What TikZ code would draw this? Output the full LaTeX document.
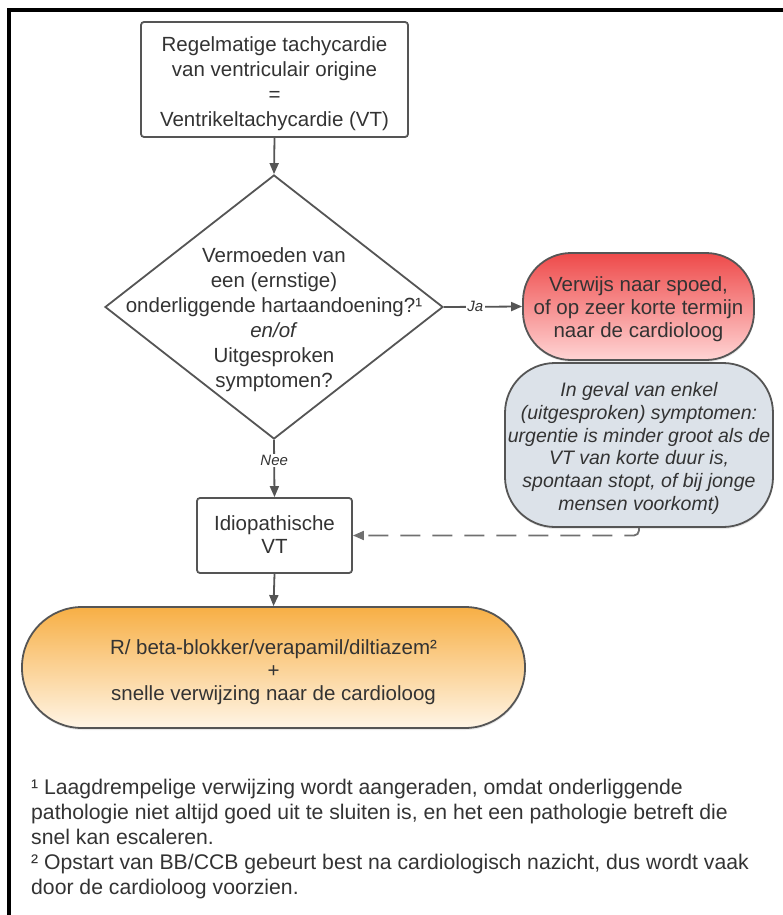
\documentclass[tikz,border=0pt]{standalone}
\usepackage{fontspec}
\setmainfont{Liberation Sans}
\usetikzlibrary{shapes.geometric,arrows.meta,shadows}

\definecolor{txt}{HTML}{333333}
\definecolor{edge}{HTML}{555555}
\definecolor{dashcol}{HTML}{707070}
\definecolor{redtop}{HTML}{EE4A4A}
\definecolor{redbot}{HTML}{FFD4D4}
\definecolor{grayfill}{HTML}{DCE2E9}
\definecolor{orangetop}{HTML}{F7AF45}
\definecolor{orangebot}{HTML}{FFF5E6}

\begin{document}
\begin{tikzpicture}[x=1pt,y=-1pt,
  base/.style={draw=edge, line width=1.8pt, inner sep=0pt},
  soft/.style={drop shadow={shadow xshift=0.5pt, shadow yshift=-2pt, opacity=0.18}},
  procbox/.style={base, rectangle, rounded corners=3pt, fill=white},
  decision/.style={base, diamond, minimum width=338pt, minimum height=264pt, fill=white},
  referral/.style={base, soft, rectangle, rounded corners=48pt, top color=redtop, bottom color=redbot},
  remark/.style={base, soft, rectangle, rounded corners=50pt, fill=grayfill},
  treatment/.style={base, soft, rectangle, rounded corners=60pt, top color=orangetop, bottom color=orangebot},
  boxtext/.style={text=txt, align=center, inner sep=0pt},
  conn/.style={draw=edge, line width=1.8pt, -{Triangle[length=11pt,width=9pt]}},
  dashconn/.style={draw=dashcol, line width=1.8pt, dash pattern=on 20pt off 12pt, rounded corners=5pt, -{Triangle[length=11pt,width=9pt]}},
  lab/.style={fill=white, text=txt, inner sep=1.5pt, font=\itshape\fontsize{15}{18}\selectfont},
  big/.style={font=\fontsize{20.5}{25}\selectfont},
  mid/.style={font=\fontsize{20.5}{23}\selectfont}
]
\useasboundingbox (0,0) rectangle (783,915);

% outer frame (only the top and left edges fall inside the page)
\draw[black, line width=4pt] (9,940) -- (9,10) -- (810,10);

% shapes
\node[procbox, minimum width=267pt, minimum height=115pt] (start) at (274.5,79.5) {};
\node[decision] (question) at (274,307) {};
\node[referral, minimum width=231pt, minimum height=107pt] (urgent) at (638.5,306.5) {};
\node[remark, minimum width=268pt, minimum height=164pt] (note) at (639,445) {};
\node[procbox, minimum width=155pt, minimum height=75pt] (idio) at (274.5,535.5) {};
\node[treatment, minimum width=503pt, minimum height=121pt] (therapy) at (273.5,667.5) {};

% texts
\node[boxtext, big] (start-t) at (274.5,84)
  {Regelmatige tachycardie\\van ventriculair origine\\=\\Ventrikeltachycardie (VT)};
\node[boxtext, big] (question-t) at (274,320)
  {Vermoeden van\\een (ernstige)\\onderliggende hartaandoening?¹\\\textit{en/of}\\Uitgesproken\\symptomen?};
\node[boxtext, mid] (urgent-t) at (638.5,309.5)
  {Verwijs naar spoed,\\of op zeer korte termijn\\naar de cardioloog};
\node[boxtext, font=\itshape\fontsize{19.5}{22.7}\selectfont] (note-t) at (639,448.5)
  {In geval van enkel\\(uitgesproken) symptomen:\\urgentie is minder groot als de\\VT van korte duur is,\\spontaan stopt, of bij jonge\\mensen voorkomt)};
\node[boxtext, mid] (idio-t) at (274.5,535)
  {Idiopathische\\VT};
\node[boxtext, mid] (therapy-t) at (273.5,672)
  {R/ beta-blokker/verapamil/diltiazem²\\+\\snelle verwijzing naar de cardioloog};

% connectors
\draw[conn] (start.south) -- (question.north);
\draw[conn] (question.east) -- node[lab, pos=0.4] {Ja} (urgent.west);
\draw[conn] (question.south) -- node[lab, pos=0.36] {Nee} (idio.north);
\draw[dashconn] (note.south) |- (idio.east);
\draw[conn] (idio.south) -- (therapy.north);

% footnotes
\node[anchor=north west, align=left, text=txt, inner sep=0pt, font=\fontsize{21.2}{25}\selectfont] (notes) at (31,779)
  {¹ Laagdrempelige verwijzing wordt aangeraden, omdat onderliggende\\
   pathologie niet altijd goed uit te sluiten is, en het een pathologie betreft die\\
   snel kan escaleren.\\
   ² Opstart van BB/CCB gebeurt best na cardiologisch nazicht, dus wordt vaak\\
   door de cardioloog voorzien.};
\end{tikzpicture}
\end{document}
